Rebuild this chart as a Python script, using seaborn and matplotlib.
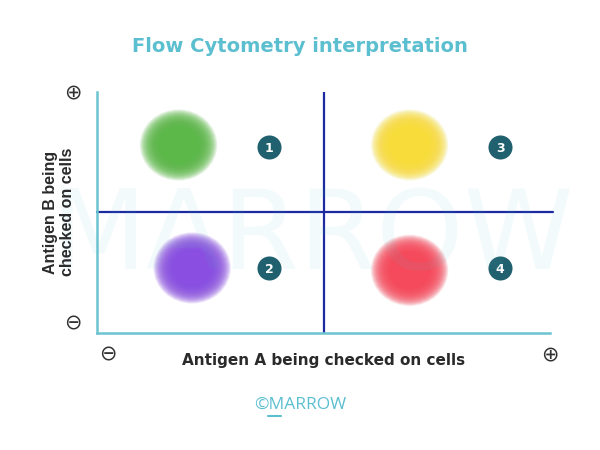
import matplotlib
matplotlib.use("Agg")
import matplotlib.pyplot as plt
from matplotlib.path import Path
from matplotlib.transforms import Affine2D
from matplotlib.lines import Line2D
import seaborn as sns
import pandas as pd

# data
populations = ["Antigen A- B+", "Antigen A- B-", "Antigen A+ B+", "Antigen A+ B-"]
center_x = [18, 21, 69, 69]
center_y = [78, 27, 78, 26]
cloud_colors = ["#5cb848", "#8a4fe0", "#f7dc3a", "#f44a5c"]
badge_labels = ["1", "2", "3", "4"]
badge_x = [38, 38, 89, 89]
badge_y = [77, 27, 77, 27]
title = "Flow Cytometry interpretation"
xlabel = "Antigen A being checked on cells"
ylabel = "Antigen B being\nchecked on cells"

sns.set_style("white")
plt.rcParams["font.family"] = ["DejaVu Sans"]

fig = plt.figure(figsize=(6, 4.5), dpi=100)
ax = fig.add_axes([0.1617, 0.26, 0.755, 0.5356])
ax.set_xlim(0, 100)
ax.set_ylim(0, 100)

# watermark
fig.text(0.52, 0.47, "MARROW", fontsize=80, color="#5bc0cf", alpha=0.07,
         ha="center", va="center", zorder=0)

df = pd.DataFrame({"pop": populations, "x": center_x, "y": center_y})
pal = dict(zip(populations, cloud_colors))

# slightly wide elliptical marker
ellipse = Path.unit_circle().transformed(Affine2D().scale(1.0, 0.92))

# fuzzy clouds: many stacked translucent markers
n_layers = 60
for i in range(n_layers):
    d = 20 + (56 - 20) * i / (n_layers - 1)
    sns.scatterplot(data=df, x="x", y="y", hue="pop", palette=pal, s=d * d,
                    alpha=0.065, marker=ellipse, linewidth=0, legend=False,
                    ax=ax, zorder=3)

# quadrant lines
ax.axvline(50, color="#1b2aa0", lw=1.6, zorder=2)
ax.plot([0, 100.6], [50, 50], color="#1b2aa0", lw=1.6, zorder=2, clip_on=False)

# badges
bdf = pd.DataFrame({"x": badge_x, "y": badge_y})
sns.scatterplot(data=bdf, x="x", y="y", s=300, color="#21606e", linewidth=0,
                legend=False, ax=ax, zorder=4)
for lx, ly, t in zip(badge_x, badge_y, badge_labels):
    ax.text(lx, ly, t, color="white", fontsize=9, fontweight="bold",
            ha="center", va="center_baseline", zorder=5)

# spines
for side in ["top", "right"]:
    ax.spines[side].set_visible(False)
for side in ["left", "bottom"]:
    ax.spines[side].set_color("#6cc4d0")
    ax.spines[side].set_linewidth(1.8)
ax.set_xticks([])
ax.set_yticks([])
ax.set_xlabel("")
ax.set_ylabel("")

# plus/minus symbols
sym = dict(fontsize=15, color="#333333", ha="center", va="center")
fig.text(73 / 600, 1 - 92 / 450, "\u2295", **sym)
fig.text(73 / 600, 1 - 323 / 450, "\u2296", **sym)
fig.text(108 / 600, 1 - 354 / 450, "\u2296", **sym)
fig.text(550 / 600, 1 - 354 / 450, "\u2295", **sym)

fig.text(0.5, 1 - 46 / 450, title, fontsize=14, fontweight="bold",
         color="#5bbfd0", ha="center", va="center")
fig.text(324 / 600, 1 - 360 / 450, xlabel, fontsize=11, fontweight="bold",
         color="#2a2a2a", ha="center", va="center")
fig.text(59 / 600, 1 - 212 / 450, ylabel, fontsize=11.5, fontweight="bold",
         color="#2a2a2a", ha="center", va="center", rotation=90,
         multialignment="center", linespacing=1.2,
         family=["Liberation Sans", "DejaVu Sans"])
fig.text(0.5, 1 - 405 / 450, "\u00a9MARROW", fontsize=12.5,
         color="#5bbfd0", ha="center", va="center", family="Open Sans")
fig.add_artist(Line2D([268 / 600, 281 / 600], [1 - 416 / 450, 1 - 416 / 450],
                      color="#5bbfd0", lw=1.5, transform=fig.transFigure))

fig.savefig("out.png", dpi=100, facecolor="white")
